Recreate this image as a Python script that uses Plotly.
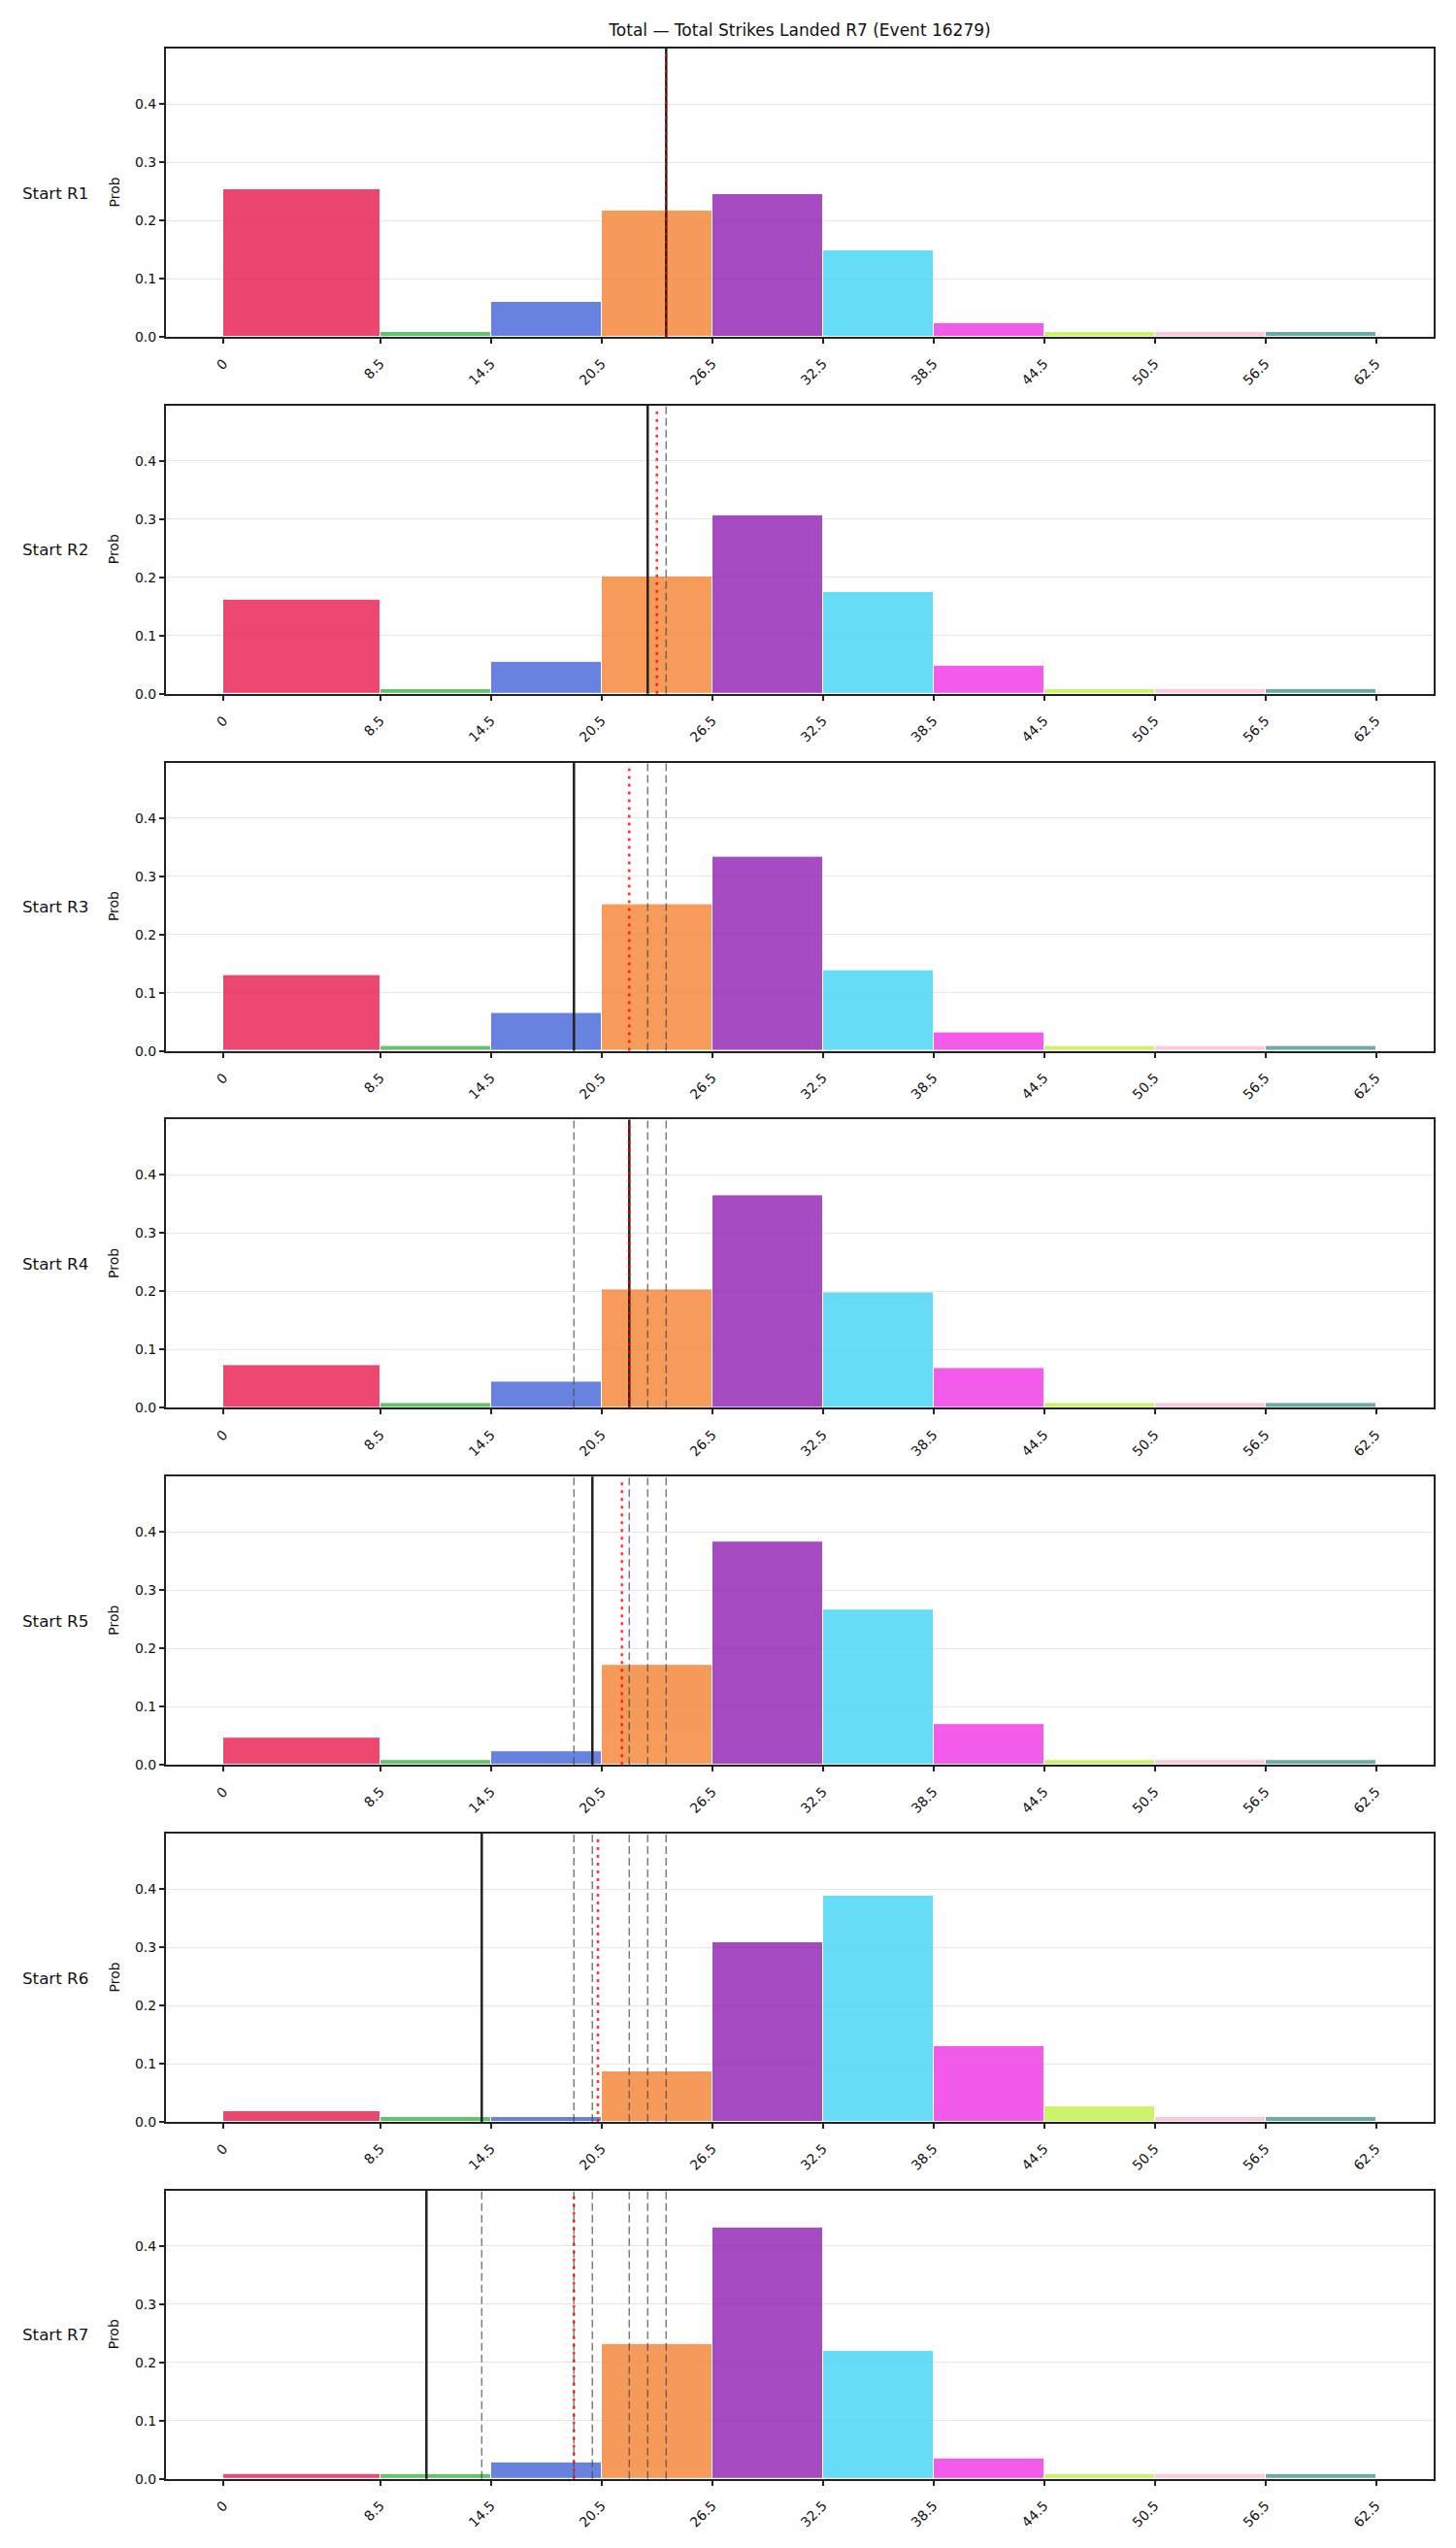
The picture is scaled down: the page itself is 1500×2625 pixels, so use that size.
import plotly.graph_objects as go

# ---------------- data ----------------
bin_edges = [0, 8.5, 14.5, 20.5, 26.5, 32.5, 38.5, 44.5, 50.5, 56.5, 62.5]
tick_labels = ["0", "8.5", "14.5", "20.5", "26.5", "32.5", "38.5", "44.5", "50.5", "56.5", "62.5"]
bin_colors = ["#e6194B", "#3cb44b", "#4363d8", "#f58231", "#911eb4",
              "#42d4f4", "#f032e6", "#bfef45", "#fabed4", "#469990"]
row_labels = ["Start R1", "Start R2", "Start R3", "Start R4", "Start R5", "Start R6", "Start R7"]

prob_r1 = [0.253, 0.008, 0.060, 0.217, 0.245, 0.148, 0.024, 0.008, 0.008, 0.008]
prob_r2 = [0.161, 0.008, 0.055, 0.202, 0.307, 0.175, 0.048, 0.008, 0.008, 0.008]
prob_r3 = [0.130, 0.008, 0.065, 0.252, 0.334, 0.138, 0.032, 0.008, 0.008, 0.008]
prob_r4 = [0.073, 0.008, 0.045, 0.203, 0.365, 0.198, 0.068, 0.008, 0.008, 0.008]
prob_r5 = [0.046, 0.008, 0.024, 0.171, 0.383, 0.267, 0.070, 0.008, 0.008, 0.008]
prob_r6 = [0.019, 0.008, 0.008, 0.087, 0.309, 0.388, 0.130, 0.026, 0.008, 0.008]
prob_r7 = [0.008, 0.008, 0.028, 0.232, 0.432, 0.220, 0.035, 0.008, 0.008, 0.008]
probs = [prob_r1, prob_r2, prob_r3, prob_r4, prob_r5, prob_r6, prob_r7]

current_values = [24, 23, 19, 22, 20, 14, 11]          # solid black line per round
expected_values = [24, 23.5, 22, 22, 21.6, 20.3, 19]   # red dotted line per round

title_text = "Total \u2014 Total Strikes Landed R7 (Event 16279)"

# ---------------- layout geometry ----------------
W, H = 1500, 2625
m_l, m_r, m_t, m_b = 171, 23, 50, 71
plot_h = H - m_t - m_b
panel_h = 297
panel_step = 367.8
y_max = 0.495
x_range = [-3.125, 65.625]
FONT = "DejaVu Sans"

fig = go.Figure()
shapes = []
annotations = []
n = len(probs)
widths = [bin_edges[i + 1] - bin_edges[i] for i in range(len(bin_edges) - 1)]

for i in range(n):
    ax = "" if i == 0 else str(i + 1)
    xa, ya = "x" + ax, "y" + ax
    top_px = panel_step * i
    bot_px = top_px + panel_h
    d_top = 1 - top_px / plot_h
    d_bot = 1 - bot_px / plot_h

    fig.add_trace(go.Bar(
        x=bin_edges[:-1], y=probs[i], width=widths, offset=0,
        marker=dict(color=bin_colors, line=dict(color="white", width=1)),
        opacity=0.8, xaxis=xa, yaxis=ya, showlegend=False,
        hoverinfo="x+y",
    ))

    axis_common = dict(showline=True, linecolor="#222222", linewidth=2, mirror=True,
                       ticks="outside", ticklen=5, tickwidth=1.5, tickcolor="#222222",
                       tickfont=dict(family=FONT, size=14, color="#111111"),
                       zeroline=False)
    fig.update_layout(**{
        ("xaxis" + ax): dict(domain=[0, 1], anchor=ya, range=x_range,
                             tickmode="array", tickvals=bin_edges, ticktext=tick_labels,
                             tickangle=-45, ticklabelstandoff=7, showgrid=False, **axis_common),
        ("yaxis" + ax): dict(domain=[d_bot, d_top], anchor=xa, range=[0, y_max],
                             tickmode="array", tickvals=[0, 0.1, 0.2, 0.3, 0.4],
                             tickformat=".1f", showgrid=True, gridcolor="#e6e6e6",
                             gridwidth=1, **axis_common),
    })

    # previous rounds: grey dashed
    for v in current_values[:i]:
        shapes.append(dict(type="line", xref=xa, yref=ya + " domain", x0=v, x1=v, y0=0, y1=1,
                           line=dict(color="rgba(70,70,70,0.7)", width=1.5, dash="8px,4px")))
    # current: solid black
    v = current_values[i]
    shapes.append(dict(type="line", xref=xa, yref=ya + " domain", x0=v, x1=v, y0=0, y1=1,
                       line=dict(color="#222222", width=2.5)))
    # expected: red dotted
    v = expected_values[i]
    shapes.append(dict(type="line", xref=xa, yref=ya + " domain", x0=v, x1=v, y0=0, y1=0.985,
                       line=dict(color="rgba(255,0,0,0.8)", width=2.5, dash="3px,5px")))

    mid = (d_top + d_bot) / 2
    annotations.append(dict(text=row_labels[i], xref="paper", yref="paper",
                            x=(56.5 - m_l) / (W - m_l - m_r), y=mid,
                            xanchor="center", yanchor="middle", showarrow=False,
                            font=dict(family=FONT, size=16.7, color="#111111")))
    annotations.append(dict(text="Prob", xref="paper", yref="paper",
                            x=(117 - m_l) / (W - m_l - m_r), y=mid, textangle=-90,
                            xanchor="center", yanchor="middle", showarrow=False,
                            font=dict(family=FONT, size=14, color="#111111")))

fig.update_layout(
    width=W, height=H,
    margin=dict(l=m_l, r=m_r, t=m_t, b=m_b),
    paper_bgcolor="white", plot_bgcolor="white",
    bargap=0,
    title=dict(text=title_text, x=0.5, xref="paper", xanchor="center",
               y=1 - 31 / H, yref="container", yanchor="middle",
               font=dict(family=FONT, size=17, color="#111111")),
    shapes=shapes, annotations=annotations,
    showlegend=False,
)

fig.write_html("out.html")
